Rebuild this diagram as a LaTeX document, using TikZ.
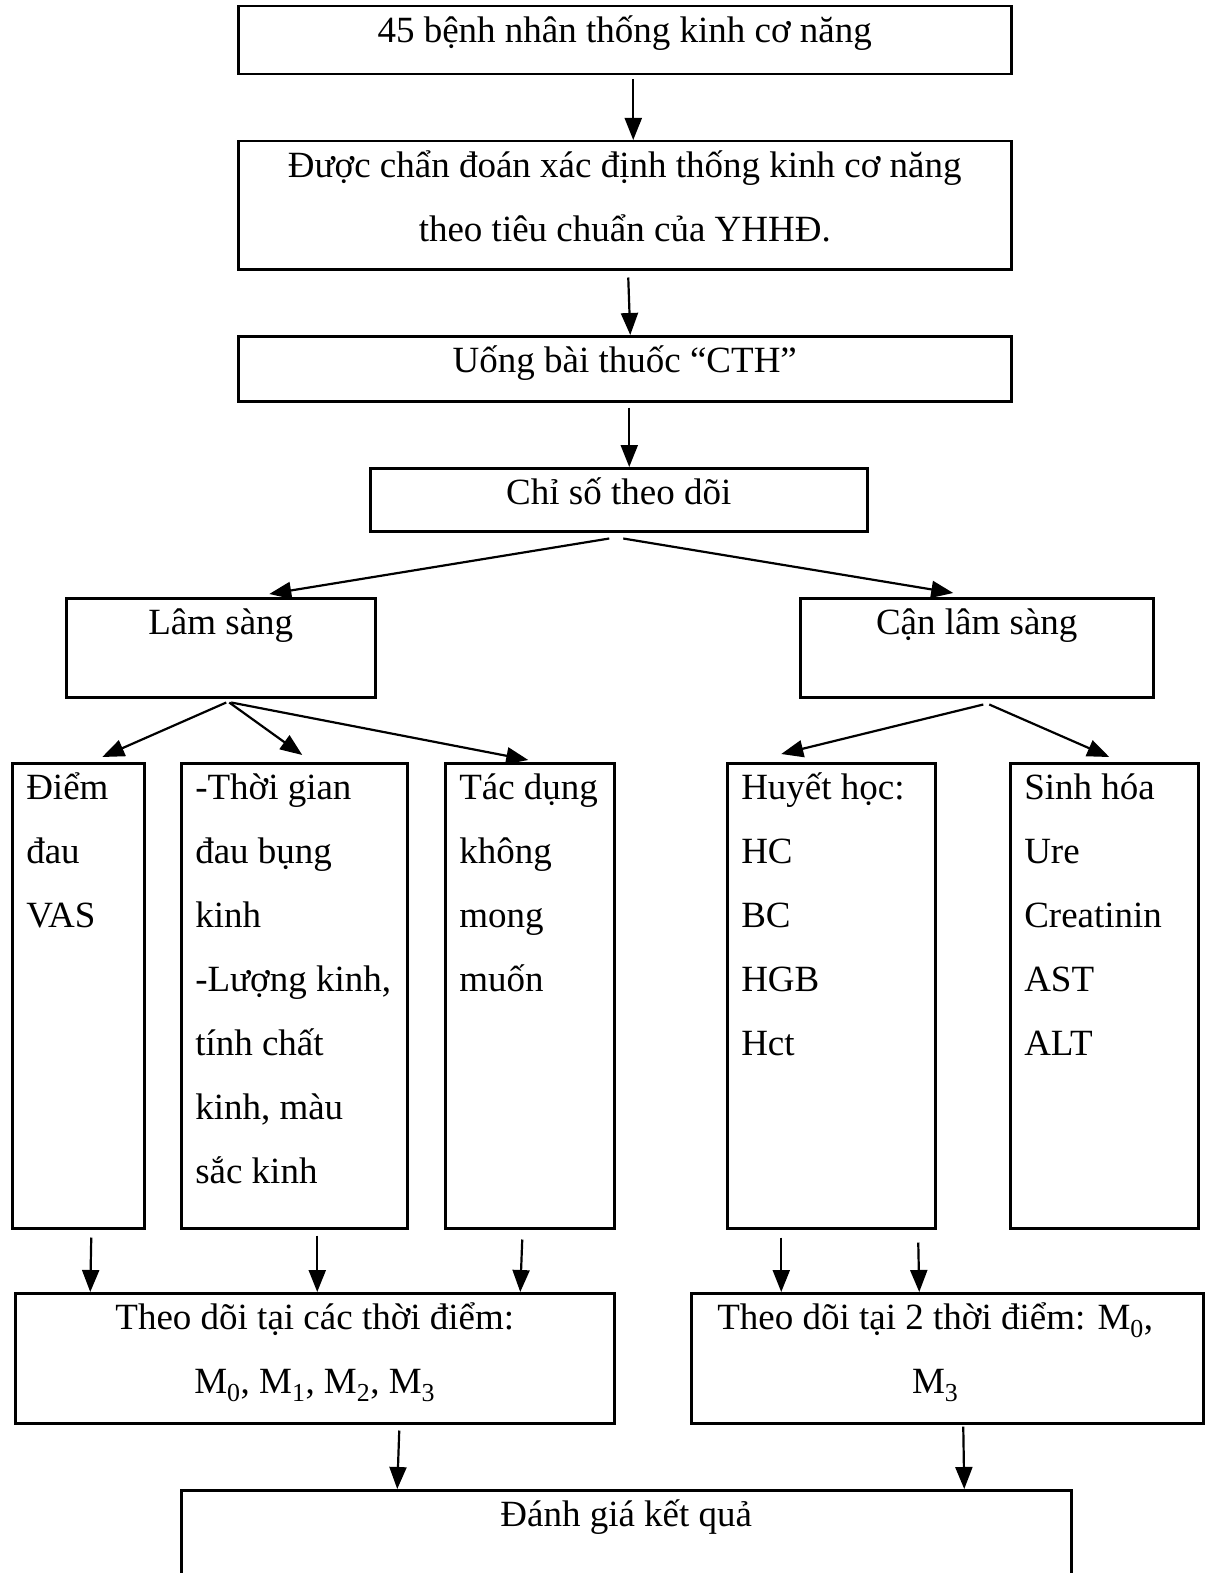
\documentclass[tikz,border=0pt]{standalone}
\usepackage{fontspec}
\setmainfont{Liberation Serif}
\usetikzlibrary{arrows.meta}

\newcommand{\tstrut}{\rule{0pt}{36pt}}
\newcommand{\ctext}[3]{\parbox[t][#2][t]{#1}{\centering\tstrut #3}}
\newcommand{\ltext}[3]{\parbox[t][#2][t]{#1}{\raggedright\leftskip=14pt\tstrut #3}}

\begin{document}
\begin{tikzpicture}[x=1pt,y=-1pt,
  box/.style={draw,line width=2.5pt,inner sep=0pt,anchor=north west,
    font=\fontsize{37}{64}\selectfont},
  arr/.style={line width=2.2pt,-{Triangle[length=22pt,width=17pt]}}]
  \useasboundingbox (0,0) rectangle (1205,1573);
  \clip (0,0) rectangle (1205,1573);

  \node[box] (bn) at (237,5) {\ctext{773pt}{68pt}{45 bệnh nhân thống kinh cơ năng}};
  \node[box] (cd) at (237,140) {\ctext{773pt}{128pt}{Được chẩn đoán xác định thống kinh cơ năng\\ theo tiêu chuẩn của YHHĐ.}};
  \node[box] (ut) at (237,335) {\ctext{773pt}{65pt}{Uống bài thuốc “CTH”}};
  \node[box] (cs) at (369,467) {\ctext{497pt}{63pt}{Chỉ số theo dõi}};
  \node[box] (ls) at (65,597) {\ctext{309pt}{99pt}{Lâm sàng}};
  \node[box] (cls) at (799,597) {\ctext{353pt}{99pt}{Cận lâm sàng}};

  \node[box] (vas) at (11,762) {\ltext{132pt}{465pt}{Điểm\\ đau\\ VAS}};
  \node[box] (tg) at (180,762) {\ltext{226pt}{465pt}{-Thời gian\\ đau bụng\\ kinh\\ -Lượng kinh,\\ tính chất\\ kinh, màu\\ sắc kinh}};
  \node[box] (td) at (444,762) {\ltext{169pt}{465pt}{Tác dụng\\ không\\ mong\\ muốn}};
  \node[box] (hh) at (726,762) {\ltext{208pt}{465pt}{Huyết học:\\ HC\\ BC\\ HGB\\ Hct}};
  \node[box] (sh) at (1009,762) {\ltext{188pt}{465pt}{Sinh hóa\\ Ure\\ Creatinin\\ AST\\ ALT}};

  \node[box] (tdl) at (14,1292) {\ctext{599pt}{130pt}{Theo dõi tại các thời điểm:\\ M\textsubscript{0}, M\textsubscript{1}, M\textsubscript{2}, M\textsubscript{3}}};
  \node[box] (tdr) at (690,1292) {\ctext{512pt}{130pt}{\rightskip=24pt plus 1fil Theo dõi tại 2 thời điểm: M\textsubscript{0},\\ M\textsubscript{3}}};
  \node[box] (dg) at (180,1489) {\ctext{890pt}{140pt}{Đánh giá kết quả}};

  \draw[arr] ([xshift=8.5pt,yshift=-4pt]bn.south) -- ([xshift=8.5pt]cd.north);
  \draw[arr] ([xshift=3.5pt,yshift=-7pt]cd.south) -- ([xshift=5.5pt]ut.north);
  \draw[arr] ([xshift=4.5pt,yshift=-5pt]ut.south) -- ([xshift=10.5pt]cs.north);
  \draw[arr] ([xshift=-9.5pt,yshift=-6pt]cs.south) -- ([xshift=48.5pt,yshift=3pt]ls.north);
  \draw[arr] ([xshift=4.5pt,yshift=-6pt]cs.south) -- ([xshift=-23.5pt,yshift=4pt]cls.north);
  \draw[arr] ([xshift=5.5pt,yshift=-4pt]ls.south) -- ([xshift=24pt,yshift=5pt]vas.north);
  \draw[arr] ([xshift=8.5pt,yshift=-4pt]ls.south) -- ([xshift=8pt,yshift=7pt]tg.north);
  \draw[arr] ([xshift=10.5pt,yshift=-4pt]ls.south) -- ([xshift=-1.5pt,yshift=2pt]td.north);
  \draw[arr] ([xshift=6.5pt,yshift=-6pt]cls.south) -- ([xshift=-50pt,yshift=8pt]hh.north);
  \draw[arr] ([xshift=12.5pt,yshift=-6pt]cls.south) -- ([xshift=5pt,yshift=5pt]sh.north);
  \draw[arr] ([xshift=13pt,yshift=-8pt]vas.south) -- ([xshift=-224.5pt]tdl.north);
  \draw[arr] ([xshift=23pt,yshift=-6pt]tg.south) -- ([xshift=2.5pt]tdl.north);
  \draw[arr] ([xshift=-7.5pt,yshift=-10pt]td.south) -- ([xshift=205.5pt]tdl.north);
  \draw[arr] ([xshift=-50pt,yshift=-8pt]hh.south) -- ([xshift=-166pt]tdr.north);
  \draw[arr] ([xshift=87pt,yshift=-13pt]hh.south) -- ([xshift=-28pt]tdr.north);
  \draw[arr] ([xshift=84.5pt,yshift=-6pt]tdl.south) -- ([xshift=-229pt]dg.north);
  \draw[arr] ([xshift=16pt,yshift=-2pt]tdr.south) -- ([xshift=338pt]dg.north);
\end{tikzpicture}
\end{document}
